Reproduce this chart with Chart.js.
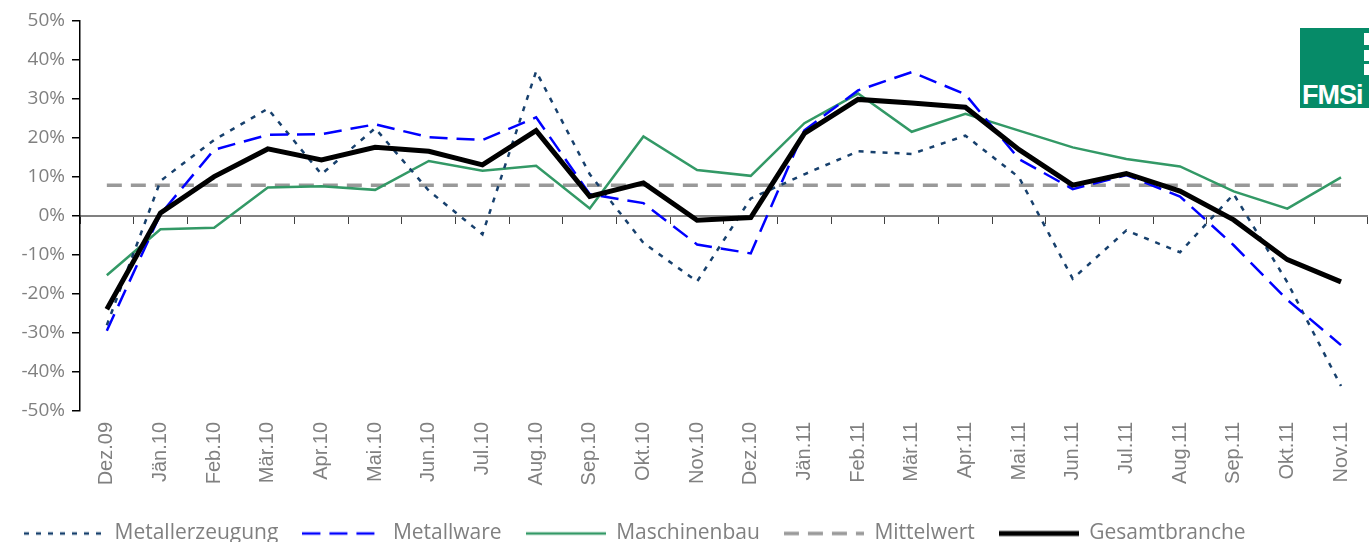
<!DOCTYPE html>
<html>
<head>
<meta charset="utf-8">
<script src="https://cdn.jsdelivr.net/npm/chart.js@4.4.0/dist/chart.umd.min.js"></script>
<style>
  html, body { margin: 0; padding: 0; overflow: hidden; background: #fff; width: 1369px; height: 542px; }
  .wrap { position: relative; width: 1376px; height: 554px; }
  .logo { position: absolute; left: 1300px; top: 28px; width: 80px; height: 80px; background: #068b68; overflow: hidden; }
  .logo span { position: absolute; left: 2px; top: 52px; color: #fff; font: bold 27px "Liberation Sans", Arial, sans-serif; letter-spacing: -1px; }
  .logo i { position: absolute; left: 64px; width: 8px; background: #fff; }
</style>
</head>
<body>
<div class="wrap">
  <canvas id="chart" width="1376" height="554"></canvas>
  <div class="logo">
    <i style="top:5px;height:12px"></i>
    <i style="top:22px;height:11px"></i>
    <i style="top:36px;height:11px"></i>
    <span>FMSi</span>
  </div>
</div>
<script>
const months = ["Dez.09","Jän.10","Feb.10","Mär.10","Apr.10","Mai.10","Jun.10","Jul.10","Aug.10","Sep.10","Okt.10","Nov.10",
                "Dez.10","Jän.11","Feb.11","Mär.11","Apr.11","Mai.11","Jun.11","Jul.11","Aug.11","Sep.11","Okt.11","Nov.11"];

const metallerzeugung = [-28, 9.0, 19.5, 27.5, 10.7, 22.5, 6.5, -4.7, 37.1, 10.7, -6.9, -16.8,
                         4.5, 10.7, 16.6, 15.9, 20.6, 9.9, -16.1, -3.7, -9.3, 5.6, -17.0, -43.6];
const metallware = [-29.4, 0.5, 17.0, 20.8, 21.0, 23.5, 20.2, 19.5, 25.3, 5.6, 3.3, -7.3,
                    -9.6, 22.0, 32.2, 36.9, 31.2, 14.6, 6.9, 10.5, 5.0, -7.5, -21.5, -33.1];
const maschinenbau = [-15.2, -3.4, -3.0, 7.3, 7.6, 6.7, 14.1, 11.6, 12.9, 1.9, 20.4, 11.8,
                      10.3, 23.8, 31.4, 21.6, 26.2, 21.9, 17.6, 14.6, 12.7, 6.3, 1.9, 9.9];
const mittelwert = [7.9, 7.9, 7.9, 7.9, 7.9, 7.9, 7.9, 7.9, 7.9, 7.9, 7.9, 7.9,
                    7.9, 7.9, 7.9, 7.9, 7.9, 7.9, 7.9, 7.9, 7.9, 7.9, 7.9, 7.9];
const gesamtbranche = [-23.9, 0.8, 10.1, 17.2, 14.4, 17.6, 16.6, 13.1, 21.9, 5.0, 8.5, -1.1,
                       -0.4, 21.2, 29.9, 29.0, 27.9, 17.0, 7.9, 10.9, 6.4, -1.0, -11.2, -16.9];

const grey = "#808080";

// small canvas used as the legend sample, so the dash pattern shows in the legend too
function sample(color, width, dash){
    const c = document.createElement("canvas");
    c.width = 80;
    c.height = 8;
    const ctx = c.getContext("2d");
    ctx.strokeStyle = color;
    ctx.lineWidth = width;
    ctx.setLineDash(dash);
    ctx.beginPath();
    ctx.moveTo(0, 4);
    ctx.lineTo(80, 4);
    ctx.stroke();
    return c;
}

function line(label, data, color, width, dash, order){
    return {
        label: label,
        data: data,
        borderColor: color,
        backgroundColor: color,
        borderWidth: width,
        borderDash: dash,
        pointRadius: 0,
        pointHoverRadius: 0,
        pointStyle: sample(color, width, dash),
        tension: 0,
        fill: false,
        order: order
    };
}

new Chart(document.getElementById("chart"), {
    type: "line",
    data: {
        labels: months,
        datasets: [
            line("Metallerzeugung", metallerzeugung, "#17406d", 2.5, [5, 7], 2),
            line("Metallware", metallware, "#0000ff", 2.5, [18, 9], 1),
            line("Maschinenbau", maschinenbau, "#339966", 2.5, [], 3),
            line("Mittelwert", mittelwert, "#999999", 3.5, [15, 9], 4),
            line("Gesamtbranche", gesamtbranche, "#000000", 5, [], 0)
        ]
    },
    options: {
        responsive: false,
        animation: false,
        layout: {padding: {top: 21, right: 0, left: 0, bottom: 0}},
        plugins: {
            tooltip: {enabled: false},
            legend: {
                position: "bottom",
                align: "start",
                labels: {
                    usePointStyle: true,
                    pointStyleWidth: 80,
                    padding: 24,
                    color: grey,
                    font: {family: "'Open Sans', sans-serif", size: 21},
                    sort: (a, b) => a.datasetIndex - b.datasetIndex
                }
            }
        },
        scales: {
            x: {
                offset: true,
                grid: {display: false, drawTicks: false},
                border: {display: false},
                ticks: {
                    autoSkip: false, minRotation: 90, maxRotation: 90, padding: 11,
                    color: grey, font: {family: "'Liberation Sans', Arial, sans-serif", size: 20}
                },
                afterFit: (s) => { s.height = 88; }
            },
            x2: {
                type: "category",
                position: {y: 0},
                offset: true,
                grid: {offset: true, drawOnChartArea: false, drawTicks: true, tickLength: 7, color: "#404040", lineWidth: 1},
                border: {display: true, color: grey, width: 2},
                ticks: {display: false}
            },
            y: {
                min: -50, max: 50,
                grid: {drawOnChartArea: false, drawTicks: true, tickLength: 8, color: "#000000", lineWidth: 1.5},
                border: {display: true, color: "#000000", width: 1.5},
                ticks: {
                    stepSize: 10, padding: 7, color: grey,
                    font: {family: "'Open Sans', sans-serif", size: 19},
                    callback: (v) => v + "%"
                },
                afterFit: (s) => { s.width = 80; }
            }
        }
    }
});
</script>
</body>
</html>
